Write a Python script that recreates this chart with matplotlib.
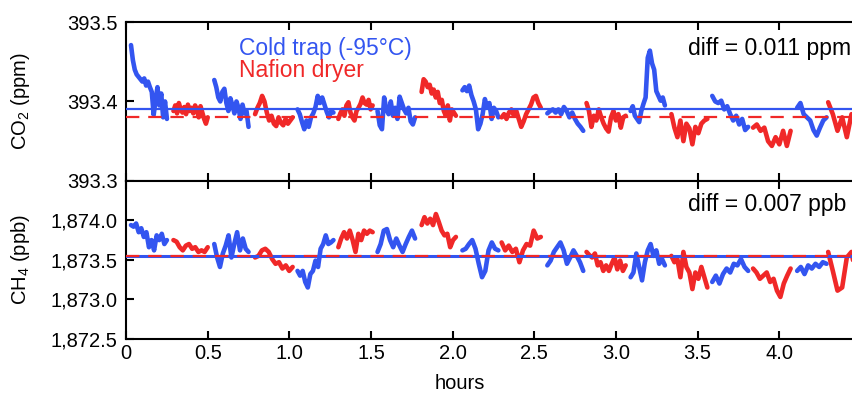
import numpy as np
import matplotlib
matplotlib.use("Agg")
import matplotlib.pyplot as plt
from matplotlib.ticker import FuncFormatter

plt.rcParams['font.family'] = ['Liberation Sans', 'DejaVu Sans']
plt.rcParams['mathtext.fontset'] = 'custom'
plt.rcParams['mathtext.rm'] = 'Liberation Sans'
plt.rcParams['mathtext.default'] = 'regular'

# segment timing (hours); even index = cold trap, odd index = Nafion dryer
seg_start = [0.03, 0.29, 0.54, 0.79, 1.05, 1.30, 1.54, 1.81, 2.06,
             2.30, 2.58, 2.82, 3.09, 3.34, 3.59, 3.84, 4.11, 4.30]
seg_end = [0.25, 0.50, 0.75, 1.02, 1.27, 1.51, 1.77, 2.02, 2.28,
           2.54, 2.80, 3.06, 3.30, 3.56, 3.81, 4.07, 4.29, 4.50]

co2_segs = [
    [393.471, 393.452, 393.440, 393.434, 393.431, 393.428, 393.425, 393.429, 393.420, 393.425,
     393.418, 393.412, 393.383, 393.402, 393.418, 393.395, 393.410, 393.380, 393.400, 393.378],
    [393.388, 393.395, 393.385, 393.398, 393.390, 393.386, 393.393, 393.384, 393.396, 393.388,
     393.392, 393.385, 393.395, 393.390, 393.380, 393.394, 393.386, 393.378, 393.372, 393.380],
    [393.427, 393.418, 393.405, 393.400, 393.412, 393.416, 393.398, 393.388, 393.404, 393.395,
     393.385, 393.400, 393.392, 393.378, 393.396, 393.385, 393.388, 393.368],
    [393.384, 393.392, 393.398, 393.407, 393.400, 393.386, 393.376, 393.382, 393.372, 393.369,
     393.380, 393.373, 393.370, 393.378, 393.372, 393.376, 393.380],
    [393.390, 393.384, 393.374, 393.365, 393.376, 393.368, 393.380, 393.385, 393.393, 393.407,
     393.398, 393.405, 393.396, 393.387, 393.380, 393.388, 393.386],
    [393.378, 393.385, 393.390, 393.382, 393.395, 393.399, 393.386, 393.380, 393.376, 393.388,
     393.392, 393.397, 393.405, 393.398, 393.396, 393.402, 393.390, 393.395],
    [393.388, 393.370, 393.365, 393.405, 393.390, 393.384, 393.400, 393.382, 393.392, 393.378,
     393.406, 393.398, 393.390, 393.385, 393.392, 393.375, 393.371, 393.380],
    [393.412, 393.428, 393.425, 393.418, 393.421, 393.410, 393.415, 393.405, 393.412, 393.398,
     393.402, 393.388, 393.382, 393.395, 393.376, 393.390, 393.386, 393.382],
    [393.414, 393.418, 393.413, 393.420, 393.408, 393.400, 393.390, 393.365, 393.372, 393.384,
     393.403, 393.392, 393.398, 393.378, 393.392, 393.388, 393.380],
    [393.380, 393.384, 393.378, 393.386, 393.390, 393.382, 393.388, 393.378, 393.368, 393.375,
     393.384, 393.390, 393.396, 393.405, 393.407, 393.398, 393.392],
    [393.385, 393.388, 393.390, 393.386, 393.390, 393.384, 393.393, 393.388, 393.380, 393.386,
     393.378, 393.372, 393.368, 393.363],
    [393.398, 393.388, 393.368, 393.382, 393.376, 393.390, 393.380, 393.372, 393.366, 393.362,
     393.380, 393.388, 393.376, 393.384, 393.367, 393.380, 393.382],
    [393.388, 393.394, 393.382, 393.378, 393.374, 393.388, 393.397, 393.405, 393.455, 393.464,
     393.448, 393.440, 393.413, 393.407, 393.401, 393.405, 393.395],
    [393.384, 393.367, 393.355, 393.376, 393.350, 393.372, 393.366, 393.346, 393.368, 393.360,
     393.372, 393.376, 393.378],
    [393.407, 393.400, 393.398, 393.401, 393.390, 393.394, 393.384, 393.376, 393.382, 393.371,
     393.378, 393.364, 393.368],
    [393.367, 393.371, 393.363, 393.367, 393.350, 393.344, 393.355, 393.346, 393.363, 393.344,
     393.363],
    [393.392, 393.398, 393.384, 393.380, 393.376, 393.364, 393.357, 393.367, 393.376, 393.380],
    [393.399, 393.384, 393.363, 393.380, 393.355, 393.384, 393.372, 393.346],
]

ch4_segs = [
    [1873.94, 1873.92, 1873.96, 1873.85, 1873.90, 1873.79, 1873.85, 1873.66, 1873.75, 1873.62,
     1873.81, 1873.75, 1873.83, 1873.70, 1873.75],
    [1873.75, 1873.73, 1873.66, 1873.62, 1873.68, 1873.70, 1873.64, 1873.66, 1873.60, 1873.62,
     1873.60, 1873.66],
    [1873.70, 1873.53, 1873.41, 1873.58, 1873.68, 1873.81, 1873.53, 1873.70, 1873.85, 1873.62,
     1873.77, 1873.64, 1873.60],
    [1873.53, 1873.55, 1873.62, 1873.64, 1873.60, 1873.51, 1873.45, 1873.47, 1873.39, 1873.43,
     1873.36, 1873.41],
    [1873.36, 1873.30, 1873.36, 1873.22, 1873.15, 1873.32, 1873.36, 1873.49, 1873.41, 1873.64,
     1873.70, 1873.81, 1873.70, 1873.72, 1873.75],
    [1873.66, 1873.77, 1873.85, 1873.77, 1873.87, 1873.75, 1873.60, 1873.83, 1873.75, 1873.87,
     1873.83, 1873.87, 1873.85],
    [1873.60, 1873.70, 1873.87, 1873.89, 1873.75, 1873.66, 1873.77, 1873.68, 1873.60, 1873.70,
     1873.79, 1873.87, 1873.77],
    [1873.94, 1874.04, 1873.96, 1874.02, 1873.94, 1874.08, 1873.98, 1873.87, 1873.81, 1873.83,
     1873.66, 1873.75, 1873.79],
    [1873.62, 1873.64, 1873.70, 1873.75, 1873.64, 1873.45, 1873.28, 1873.36, 1873.62, 1873.72,
     1873.64, 1873.62],
    [1873.72, 1873.62, 1873.68, 1873.60, 1873.64, 1873.47, 1873.62, 1873.70, 1873.68, 1873.87,
     1873.77, 1873.79],
    [1873.43, 1873.49, 1873.60, 1873.66, 1873.72, 1873.62, 1873.45, 1873.53, 1873.62, 1873.55,
     1873.47, 1873.36],
    [1873.60, 1873.56, 1873.53, 1873.58, 1873.43, 1873.47, 1873.36, 1873.43, 1873.36, 1873.45,
     1873.53, 1873.38, 1873.49, 1873.36, 1873.43],
    [1873.28, 1873.34, 1873.58, 1873.41, 1873.24, 1873.47, 1873.62, 1873.70, 1873.55, 1873.62,
     1873.45, 1873.51, 1873.43],
    [1873.55, 1873.47, 1873.51, 1873.28, 1873.60, 1873.41, 1873.34, 1873.13, 1873.34, 1873.26,
     1873.41, 1873.28, 1873.15],
    [1873.22, 1873.30, 1873.20, 1873.32, 1873.39, 1873.34, 1873.45, 1873.43, 1873.51, 1873.41,
     1873.36],
    [1873.39, 1873.34, 1873.26, 1873.30, 1873.34, 1873.22, 1873.26, 1873.11, 1873.03, 1873.20,
     1873.30, 1873.39],
    [1873.36, 1873.41, 1873.32, 1873.43, 1873.39, 1873.45, 1873.41, 1873.47, 1873.45],
    [1873.60, 1873.36, 1873.11, 1873.15, 1873.53, 1873.60, 1873.28, 1873.41],
]

co2_mean_cold, co2_mean_nafion = 393.391, 393.380
ch4_mean_cold, ch4_mean_nafion = 1873.550, 1873.543

blue = '#3355f0'
red = '#f02828'
fs_tick = 14.5
fs_text = 16.5

fig = plt.figure(figsize=(8.52, 3.94), dpi=100)
ax1 = fig.add_axes([0.148, 0.541, 0.852, 0.403])
ax2 = fig.add_axes([0.148, 0.140, 0.852, 0.401], sharex=ax1)

for ax, segs in ((ax1, co2_segs), (ax2, ch4_segs)):
    for i, vals in enumerate(segs):
        t = np.linspace(seg_start[i], seg_end[i], len(vals))
        ax.plot(t, vals, color=blue if i % 2 == 0 else red, lw=3.3,
                solid_capstyle='round', solid_joinstyle='round', zorder=2)

ax1.axhline(co2_mean_cold, color=blue, lw=1.6, zorder=3)
ax1.axhline(co2_mean_nafion, color=red, lw=1.6, ls=(0, (6, 4)), zorder=3)
ax2.axhline(ch4_mean_cold, color=blue, lw=2.2, zorder=3)
ax2.axhline(ch4_mean_nafion, color=red, lw=1.6, ls=(0, (6, 4)), zorder=4)

ax1.set_xlim(0, 4.446)
ax1.set_ylim(393.3, 393.5)
ax1.set_yticks([393.3, 393.4, 393.5])
ax2.set_ylim(1872.5, 1874.5)
ax2.set_yticks([1872.5, 1873.0, 1873.5, 1874.0])
ax2.yaxis.set_major_formatter(FuncFormatter(lambda v, p: f'{v:,.1f}'))
ax2.set_xticks([0, 0.5, 1.0, 1.5, 2.0, 2.5, 3.0, 3.5, 4.0])
ax2.set_xticklabels(['0', '0.5', '1.0', '1.5', '2.0', '2.5', '3.0', '3.5', '4.0'])

for ax in (ax1, ax2):
    ax.spines['right'].set_visible(False)
    for s in ('left', 'top', 'bottom'):
        ax.spines[s].set_linewidth(1.5)
    ax.tick_params(direction='in', top=True, bottom=True, left=True, right=False,
                   length=6, width=1.5, labelsize=fs_tick)
    ax.tick_params(axis='y', pad=6)
    ax.tick_params(axis='x', pad=4)
ax1.tick_params(labelbottom=False)

ax1.set_ylabel('CO$_2$ (ppm)', fontsize=fs_tick)
ax1.yaxis.set_label_coords(-0.130, 0.5)
ax2.set_ylabel('CH$_4$ (ppb)', fontsize=fs_tick)
ax2.yaxis.set_label_coords(-0.130, 0.5)
ax2.set_xlabel('hours', fontsize=fs_tick)
ax2.xaxis.set_label_coords(0.46, -0.22)

xt1 = ax1.get_xaxis_transform()
xt2 = ax2.get_xaxis_transform()
ax1.text(0.69, 0.836, 'Cold trap (-95°C)', color=blue, fontsize=fs_text,
         va='center', transform=xt1)
ax1.text(0.69, 0.698, 'Nafion dryer', color=red, fontsize=fs_text,
         va='center', transform=xt1)
ax1.text(3.44, 0.836, 'diff = 0.011 ppm', fontsize=fs_text, va='center', transform=xt1)
ax2.text(3.44, 0.848, 'diff = 0.007 ppb', fontsize=fs_text, va='center', transform=xt2)

fig.savefig('out.png', dpi=100)
